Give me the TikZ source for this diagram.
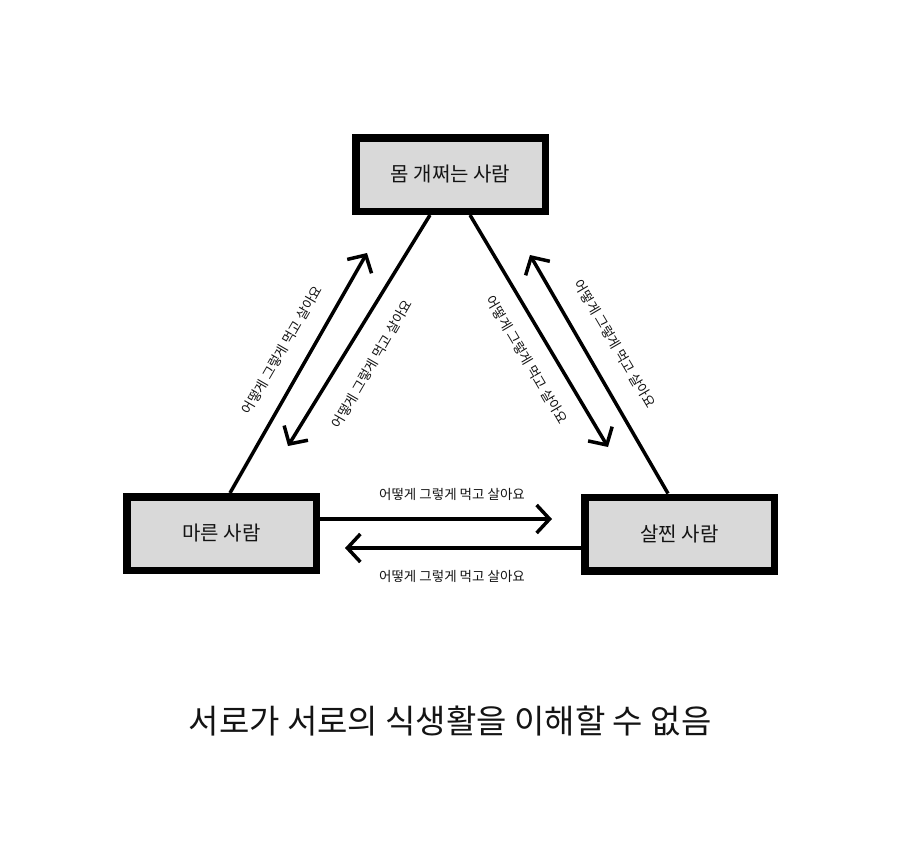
\documentclass[tikz,border=0pt]{standalone}
\usepackage{fontspec}
\setmainfont{Noto Sans CJK KR}
\usetikzlibrary{arrows.meta}
\definecolor{boxgray}{RGB}{217,217,217}
\definecolor{inkc}{RGB}{20,20,20}
\tikzset{
  personbox/.style={draw=black, fill=boxgray, line width=7.5pt, minimum width=189.5pt, minimum height=73.5pt, inner sep=0pt, font=\fontsize{20}{22}\selectfont, text=inkc},
  conn/.style={line width=3.5pt, black},
  chev/.style={conn, -{Straight Barb[length=13pt,width=28pt,line width=3.5pt]}},
  lbl/.style={font=\fontsize{13.5}{15}\selectfont, text=inkc, inner sep=0pt},
}
\begin{document}
\begin{tikzpicture}[x=1pt,y=-1pt]
\useasboundingbox[fill=white] (0,0) rectangle (900,841);
\node[personbox] (T) at (450.5,174.5) {몸 개쩌는 사람};
\node[personbox] (L) at (221.5,533.5) {마른 사람};
\node[personbox] (R) at (679.5,534) {살찐 사람};
% arrow tips
\coordinate (tA) at (367,253);
\coordinate (tB) at (288,446);
\coordinate (tC) at (608,447);
\coordinate (tD) at (530,255);
\coordinate (tH1) at (552,519);
\coordinate (tH2) at (345,548);
% connectors
\draw[chev] ([xshift=8.5pt]L.north) -- (tA);
\draw[chev] ([xshift=-20.5pt]T.south) -- (tB);
\draw[chev] ([xshift=19.5pt]T.south) -- (tC);
\draw[chev] ([xshift=-11.5pt]R.north) -- (tD);
\draw[chev] ([yshift=14.5pt]L.east) -- (tH1);
\draw[chev] ([yshift=-14pt]R.west) -- (tH2);
% labels
\node[lbl, rotate=60] (la) at (282,350) {어떻게 그렇게 먹고 살아요};
\node[lbl, rotate=60] (lb) at (372,364) {어떻게 그렇게 먹고 살아요};
\node[lbl, rotate=-59.5] (lc) at (527,360) {어떻게 그렇게 먹고 살아요};
\node[lbl, rotate=-59.5] (ld) at (615,344) {어떻게 그렇게 먹고 살아요};
\node[lbl] (lh1) at (452,494) {어떻게 그렇게 먹고 살아요};
\node[lbl] (lh2) at (452,576) {어떻게 그렇게 먹고 살아요};
% title
\node[font=\fontsize{33}{36}\selectfont, text=inkc, inner sep=0pt] (title) at (450,721) {서로가 서로의 식생활을 이해할 수 없음};
\end{tikzpicture}
\end{document}
